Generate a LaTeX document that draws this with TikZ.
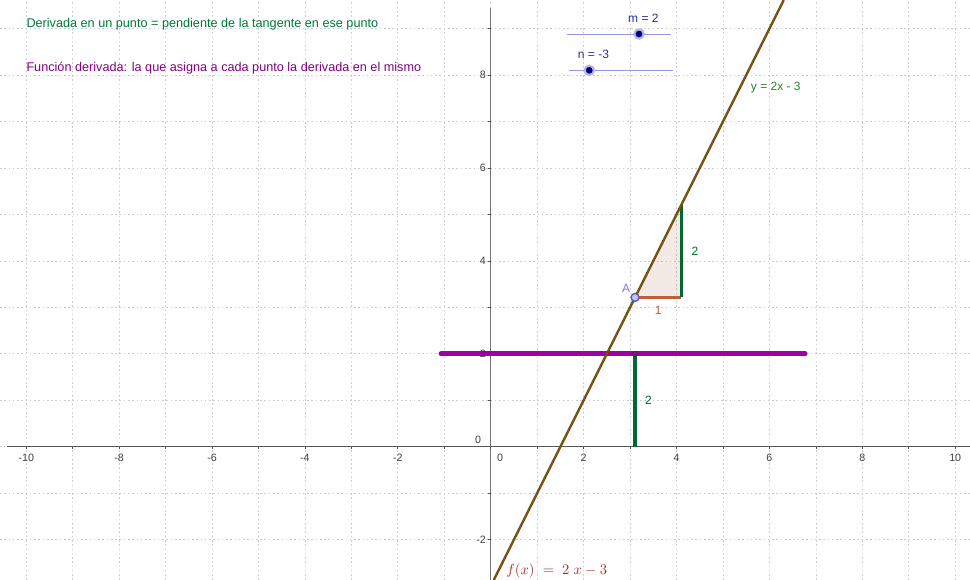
\documentclass[tikz,border=0pt]{standalone}
\usepackage{fontspec}
\setmainfont{Liberation Sans}
\usepackage{amsmath}
\usepackage{tikz}
\usetikzlibrary{positioning, calc}
\definecolor{cGrid}{RGB}{205,205,205}
\definecolor{cAxis}{RGB}{85,85,85}
\definecolor{cGreen}{RGB}{0,120,60}
\definecolor{cTan}{RGB}{40,130,40}
\definecolor{cLeg}{RGB}{0,105,50}
\definecolor{cPurple}{RGB}{128,0,128}
\definecolor{cTrace}{RGB}{160,0,160}
\definecolor{cBrown}{RGB}{153,51,0}
\definecolor{cRust}{RGB}{190,95,55}
\definecolor{cSlider}{RGB}{150,150,230}
\definecolor{cKnob}{RGB}{0,0,120}
\definecolor{cLabel}{RGB}{45,45,160}
\definecolor{cPoint}{RGB}{120,120,240}
\definecolor{cMath}{RGB}{170,45,45}
\tikzset{
	gridline/.style={cGrid, line width=0.5pt, dash pattern=on 1.2pt off 2pt},
	axisline/.style={cAxis, line width=0.8pt},
	ticklbl/.style={font=\fontsize{8}{9}\selectfont, text=black!75, inner sep=0pt},
	plain/.style={inner sep=0pt, anchor=west},
	% slider and point styles
	slider/.style={cSlider, line width=0.7pt},
	knob/.style={circle, fill=cKnob, draw=cSlider!70, line width=1.6pt, minimum size=7pt, inner sep=0pt},
	ptA/.style={circle, fill=cPoint!45, draw=cPoint!75!black, line width=1pt, minimum size=6pt, inner sep=0pt},
	leg/.style={line width=2.6pt},
}

\begin{document}
\begin{tikzpicture}[x=34.84pt, y=34.84pt, font=\fontsize{9}{11}\selectfont]
	\useasboundingbox (-10.565,-2.870) rectangle (10.319,9.617);
	\fill[white] (-10.565,-2.870) rectangle (10.319,9.617);
	\foreach \x in {-10,...,10} \draw[gridline] (\x,-2.870) -- (\x,9.617);
	\foreach \y in {-2,...,9} \draw[gridline] (-10.565,\y) -- (10.319,\y);
	\draw[axisline] (-10.41,0) -- (10.319,0);
	\draw[axisline, black!55] (0,-2.870) -- (0,9.445);
	\foreach \x in {-10,...,10} \draw[axisline, line width=0.5pt] (\x,0) -- (\x,-0.06);
	\foreach \y in {-2,...,9} \draw[axisline, line width=0.5pt] (0,\y) -- (-0.06,\y);
	\foreach \x in {-10,-8,-6,-4,-2,2,4,6,8,10} \node[ticklbl] (xl\x) at (\x,-0.245) {\x};
	\foreach \y in {-2,2,4,6,8} \node[ticklbl, anchor=east] (yl\y) at (-0.1,\y) {\y};
	\node[ticklbl] (xl0) at (0.2,-0.245) {0};
	\node[ticklbl] (yl0) at (-0.27,0.144) {0};

	\coordinate (A) at (3.107,3.214);
	\coordinate (B) at (4.107,3.214);
	\coordinate (C) at (4.107,5.214);
	\coordinate (P0) at (3.107,0);
	\coordinate (P) at (3.107,2);
	\coordinate (s) at (-1.07,2);
	\coordinate (e) at (6.77,2);
	\coordinate (lb) at (0.065,-2.870);
	\coordinate (lt) at (6.3085,9.617);

	\draw[cTrace, line width=3.6pt, line cap=round] (s) -- (e);
	\draw[cLeg, leg] (P0) -- node[right=3pt, text=cLeg] (v2) {2} (P);
	\node[circle, fill=cTrace, draw=black!80, line width=0.6pt, minimum size=3.5pt, inner sep=0pt] (p) at (P) {};

	\fill[cBrown, opacity=0.1] (A) -- (B) -- (C) -- cycle;
	\draw[cRust, line width=2pt] (A) -- node[below=2pt, text=cRust] (h1) {1} (B);
	\draw[cLeg, leg] (B) -- node[right=3pt, text=cLeg] (v1) {2} (C);

	\draw[cBrown, line width=1.8pt] (lb) -- (lt);
	\draw[cTan, line width=0.5pt] (lb) -- (lt);
	\node[ptA, label={[text=cPoint, inner sep=1pt]above left:A}] (a) at (A) {};

	\coordinate (m0) at (1.640,8.885);
	\coordinate (m1) at (3.876,8.885);
	\coordinate (n0) at (1.685,8.103);
	\coordinate (n1) at (3.919,8.103);
	\draw[slider] (m0) -- (m1);
	\draw[slider] (n0) -- (n1);
	\node[knob] (mk) at (3.193,8.885) {};
	\node[knob] (nk) at (2.122,8.103) {};
	\node[text=cLabel, inner sep=0pt] (ml) at (3.287,9.223) {m = 2};
	\node[text=cLabel, inner sep=0pt] (nl) at (2.213,8.454) {n = -3};

	\node[plain, text=cGreen, font=\fontsize{9.5}{11}\selectfont] (t1) at (-10.0,9.10) {Derivada en un punto = pendiente de la tangente en ese punto};
	\node[plain, text=cPurple, font=\fontsize{9.5}{11}\selectfont] (t2) at (-10.0,8.142) {Función derivada: la que asigna a cada punto la derivada en el mismo};
	\node[plain, text=cTan] (ly) at (5.597,7.737) {y = 2x - 3};
	\node[plain, text=cMath, font=\fontsize{11}{13}\selectfont] (lf) at (0.329,-2.68) {$f(x)\;=\;2\;x-3$};
\end{tikzpicture}
\end{document}
